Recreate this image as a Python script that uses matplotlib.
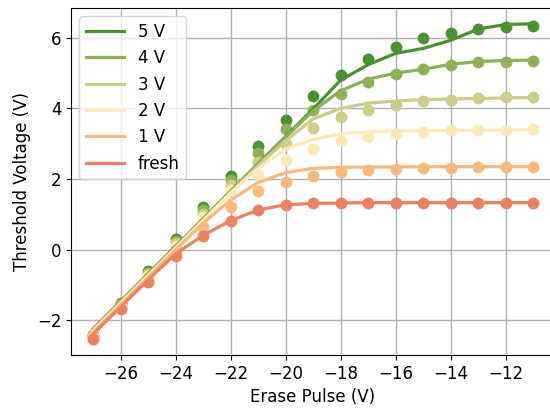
import numpy as np
import matplotlib
matplotlib.use('Agg')
import matplotlib.pyplot as plt

erase = np.arange(-27, -10)

# measured threshold voltage (dots)
meas_5v = [-2.42, -1.50, -0.60, 0.30, 1.22, 2.10, 2.93, 3.68, 4.36, 4.94, 5.39, 5.74, 5.99, 6.14, 6.24, 6.32, 6.33]
meas_4v = [-2.44, -1.53, -0.65, 0.25, 1.13, 1.96, 2.74, 3.43, 3.96, 4.42, 4.75, 4.98, 5.12, 5.24, 5.31, 5.33, 5.35]
meas_3v = [-2.46, -1.56, -0.70, 0.18, 1.01, 1.82, 2.48, 3.00, 3.45, 3.76, 3.96, 4.10, 4.21, 4.25, 4.29, 4.32, 4.32]
meas_2v = [-2.48, -1.60, -0.75, 0.10, 0.92, 1.68, 2.12, 2.55, 2.86, 3.07, 3.19, 3.29, 3.33, 3.38, 3.38, 3.40, 3.41]
meas_1v = [-2.50, -1.65, -0.83, 0.00, 0.63, 1.22, 1.65, 1.91, 2.09, 2.21, 2.25, 2.28, 2.30, 2.32, 2.33, 2.35, 2.35]
meas_fresh = [-2.54, -1.69, -0.91, -0.17, 0.38, 0.82, 1.11, 1.27, 1.31, 1.32, 1.33, 1.33, 1.33, 1.33, 1.33, 1.33, 1.33]

# model curves (lines)
fit_5v = [-2.25, -1.47, -0.69, 0.09, 0.87, 1.65, 2.43, 3.20, 3.98, 4.80, 5.24, 5.56, 5.70, 5.93, 6.25, 6.38, 6.40]
fit_4v = [-2.27, -1.49, -0.71, 0.07, 0.85, 1.63, 2.42, 3.18, 3.93, 4.50, 4.83, 5.00, 5.11, 5.25, 5.33, 5.36, 5.37]
fit_3v = [-2.28, -1.50, -0.72, 0.06, 0.84, 1.62, 2.38, 3.08, 3.70, 4.00, 4.15, 4.21, 4.25, 4.27, 4.28, 4.30, 4.31]
fit_2v = [-2.30, -1.52, -0.74, 0.04, 0.82, 1.60, 2.30, 2.85, 3.12, 3.28, 3.34, 3.36, 3.37, 3.38, 3.38, 3.39, 3.40]
fit_1v = [-2.35, -1.57, -0.79, -0.01, 0.75, 1.40, 1.90, 2.18, 2.30, 2.33, 2.34, 2.34, 2.35, 2.35, 2.35, 2.35, 2.35]
fit_fresh = [-2.40, -1.63, -0.86, -0.12, 0.40, 0.82, 1.12, 1.27, 1.31, 1.32, 1.33, 1.33, 1.33, 1.33, 1.33, 1.33, 1.33]

labels = ['5 V', '4 V', '3 V', '2 V', '1 V', 'fresh']
colors = ['#4a9130', '#8fb055', '#cdcc88', '#fde9b5', '#f8b97c', '#ee8060']
meas = [meas_5v, meas_4v, meas_3v, meas_2v, meas_1v, meas_fresh]
fits = [fit_5v, fit_4v, fit_3v, fit_2v, fit_1v, fit_fresh]

plt.rcParams['font.size'] = 12

fig = plt.figure(figsize=(5.5, 4.09), dpi=100)
ax = fig.add_axes([71 / 550, 54 / 409, 484 / 550, 347 / 409])

for m, c in zip(meas, colors):
    ax.plot(erase, m, 'o', color=c, markersize=7.5)
for f, c, lab in zip(fits, colors, labels):
    ax.plot(erase, f, '-', color=c, linewidth=2.3, label=lab)

ax.set_xticks(np.arange(-26, -11, 2))
ax.set_yticks([-2, 0, 2, 4, 6])
ax.grid(True, color='#b0b0b0', linewidth=1)
ax.set_axisbelow(True)
ax.set_xlabel('Erase Pulse (V)')
ax.set_ylabel('Threshold Voltage (V)')
ax.legend(loc='upper left', handlelength=2.3)

fig.savefig('out.png', dpi=100)
